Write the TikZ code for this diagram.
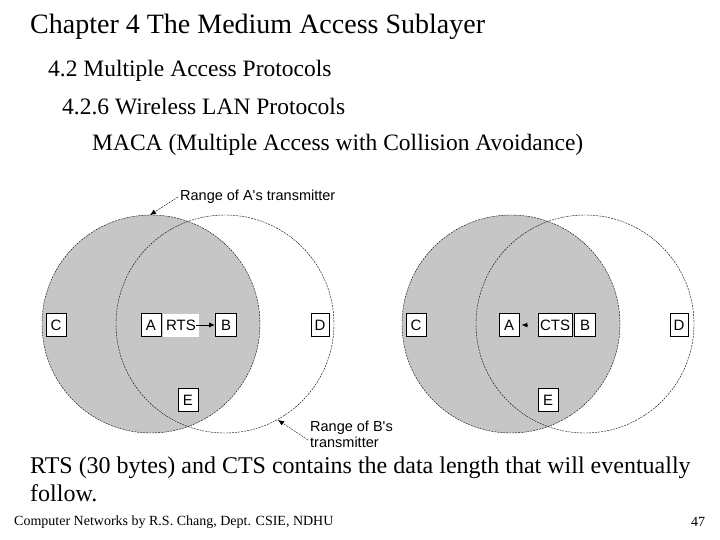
\documentclass[tikz,border=0pt]{standalone}
\usepackage{fontspec}
\setmainfont{Liberation Serif}
\newfontfamily\hel{Liberation Sans}
\usetikzlibrary{arrows.meta}
\begin{document}
\begin{tikzpicture}[x=1pt,y=-1pt,
  rng/.style={draw,dashed,dash pattern=on 2pt off 1pt,line width=0.4pt},
  bx/.style={draw,fill=white,font=\hel\fontsize{15}{15}\selectfont,inner sep=0pt,minimum height=23pt,line width=0.6pt},
  lbl/.style={font=\hel\fontsize{14.5}{16}\selectfont,align=left,anchor=west,inner sep=0pt},
  ttl/.style={anchor=west,inner sep=0pt},
  arr/.style={-{Latex[length=6pt,width=5pt]},line width=1pt}]
\useasboundingbox (0,0) rectangle (720,540);
% left diagram
\fill[gray!45] (151,324) circle (109);
\draw[rng] (151,324) circle (109);
\draw[rng] (225,324) circle (109);
% right diagram
\fill[gray!45] (511,324) circle (109);
\draw[rng] (511,324) circle (109);
\draw[rng] (585,324) circle (109);
% boxes left
\node[bx,minimum width=20pt] (C1) at (56,325) {C};
\node[bx,minimum width=20pt] (A1) at (151,325) {A};
\node[fill=white,font=\hel\fontsize{15}{15}\selectfont,inner sep=0pt,minimum height=23pt,minimum width=36pt] (R1) at (181,325) {RTS};
\node[bx,minimum width=21pt] (B1) at (226,325) {B};
\node[bx,minimum width=18pt] (D1) at (320,325) {D};
\node[bx,minimum width=20pt] (E1) at (188,400) {E};
\draw[arr] ([xshift=-3pt]R1.east) -- (B1.west);
% boxes right
\node[bx,minimum width=20pt] (C2) at (416,325) {C};
\node[bx,minimum width=20pt] (A2) at (509,325) {A};
\node[bx,minimum width=34pt] (R2) at (555,325) {CTS};
\node[bx,minimum width=21pt] (B2) at (585,325) {B};
\node[bx,minimum width=18pt] (D2) at (679,325) {D};
\node[bx,minimum width=20pt] (E2) at (548,400) {E};
\draw[arr] ([xshift=-10pt]R2.west) -- ([xshift=2pt]A2.east);
% range labels
\node[lbl] (LA) at (180,197) {Range of A's transmitter};
\coordinate (PA) at (150,215);
\draw[-{Latex[length=6pt,width=5pt]},dashed,dash pattern=on 2pt off 1pt] ([xshift=-2pt]LA.west) -- (PA);
\node[lbl] (LB) at (310,434) {Range of B's\\transmitter};
\coordinate (PB) at (278,420);
\draw[-{Latex[length=6pt,width=5pt]},dashed,dash pattern=on 2pt off 1pt] ([xshift=-2pt,yshift=-6pt]LB.west) -- (PB);
% texts
\node[ttl,font=\fontsize{28}{30}\selectfont] (T1) at (30,27) {Chapter 4 The Medium Access Sublayer};
\node[ttl,font=\fontsize{23.5}{26}\selectfont] (T2) at (48,71) {4.2 Multiple Access Protocols};
\node[ttl,font=\fontsize{23.5}{26}\selectfont] (T3) at (62,107) {4.2.6 Wireless LAN Protocols};
\node[ttl,font=\fontsize{23.5}{26}\selectfont] (T4) at (92,145) {MACA (Multiple Access with Collision Avoidance)};
\node[ttl,font=\fontsize{24}{28}\selectfont,align=left] (T5) at (30,479) {RTS (30 bytes) and CTS contains the data length that will eventually\\follow.};
\node[ttl,font=\fontsize{14}{16}\selectfont] (F) at (14,522) {Computer Networks by R.S. Chang, Dept. CSIE, NDHU};
\node[ttl,font=\fontsize{14}{16}\selectfont] (N) at (691,522) {47};
\end{tikzpicture}
\end{document}
